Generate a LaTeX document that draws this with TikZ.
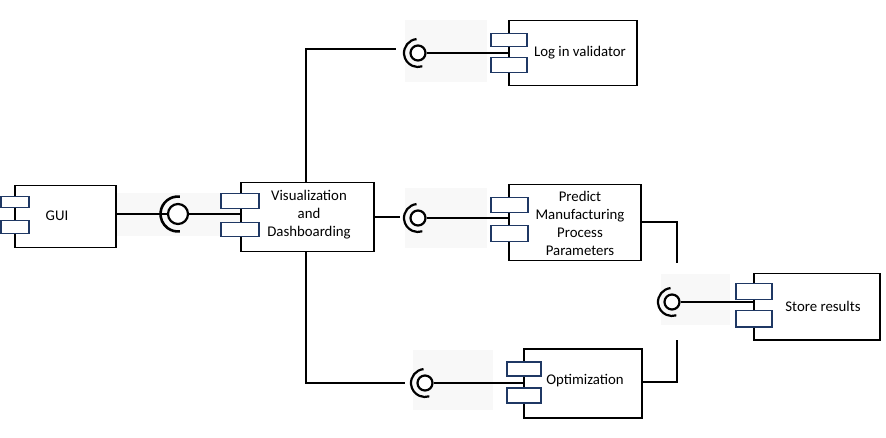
\documentclass[tikz,border=0pt]{standalone}
\usepackage{fontspec}
\setmainfont{Carlito}
\definecolor{portblue}{RGB}{31,56,100}
\definecolor{shade}{RGB}{248,248,248}
\begin{document}
\begin{tikzpicture}[x=1pt,y=-1pt,
  comp/.style={draw=black,line width=1.5pt,fill=white,rectangle,inner sep=0pt,anchor=north west},
  port/.style={draw=portblue,line width=1.5pt,fill=white,rectangle,inner sep=0pt,anchor=north west},
  ball/.style={circle,draw=black,line width=2.2pt,inner sep=0pt,fill=white},
  wire/.style={line width=1.5pt,draw=black},
  sock/.style={line width=2.6pt,draw=black},
  lbl/.style={font=\fontsize{14.8pt}{18pt}\selectfont,align=center,inner sep=0pt},
  shadebox/.style={fill=shade,draw=none,anchor=north west,inner sep=0pt}]
\useasboundingbox (0,0) rectangle (886,438);
\fill[white] (0,0) rectangle (886,438);
% faint background patches
\node[shadebox,minimum width=124pt,minimum height=43pt] (s1) at (116,193) {};
\node[shadebox,minimum width=82pt,minimum height=62pt] (s2) at (405,20) {};
\node[shadebox,minimum width=82pt,minimum height=60pt] (s3) at (405,188) {};
\node[shadebox,minimum width=69pt,minimum height=51pt] (s4) at (661,274) {};
\node[shadebox,minimum width=80pt,minimum height=60pt] (s5) at (413,350) {};

% components
\node[comp,minimum width=101pt,minimum height=62pt] (gui) at (14,185) {};
\node[comp,minimum width=133pt,minimum height=69pt] (vis) at (240,182) {};
\node[comp,minimum width=128pt,minimum height=65pt] (log) at (508,20) {};
\node[comp,minimum width=132pt,minimum height=76pt] (pred) at (508,184) {};
\node[comp,minimum width=126pt,minimum height=66pt] (store) at (753,273) {};
\node[comp,minimum width=118pt,minimum height=69pt] (opt) at (523,348) {};

% lollipops
\node[ball,minimum size=20pt] (l1) at (178,214) {};
\node[ball,minimum size=15pt] (l2) at (418,53) {};
\node[ball,minimum size=15pt] (l3) at (418,218) {};
\node[ball,minimum size=15pt] (l4) at (672,302) {};
\node[ball,minimum size=15pt] (l5) at (425,383) {};
\draw[sock] (l1.center) ++(-84:17.5) arc[start angle=-84,end angle=-276,radius=17.5];
\draw[sock,line width=2.2pt] (l2.center) ++(-96:14) arc[start angle=-96,end angle=-288,radius=14];
\draw[sock,line width=2.2pt] (l3.center) ++(-96:14) arc[start angle=-96,end angle=-288,radius=14];
\draw[sock,line width=2.2pt] (l4.center) ++(-96:14) arc[start angle=-96,end angle=-288,radius=14];
\draw[sock,line width=2.2pt] (l5.center) ++(-96:14) arc[start angle=-96,end angle=-288,radius=14];

% free ends
\coordinate (e2) at (396,49);
\coordinate (e3) at (400,217);
\coordinate (e5) at (405,383);
\coordinate (e4a) at (677,263);
\coordinate (e4b) at (677,340);

% wires
\draw[wire] (gui.east |- l1) -- (l1.west);
\draw[wire] (l1.east) -- (vis.west |- l1);
\draw[wire] (vis.north -| 306,0) -- (306,49) -- (e2);
\draw[wire] (vis.east |- e3) -- (e3);
\draw[wire] (vis.south -| 306,0) -- (306,383) -- (e5);
\draw[wire] (l2.east) -- (log.west |- l2);
\draw[wire] (l3.east) -- (pred.west |- l3);
\draw[wire] (l4.east) -- (store.west |- l4);
\draw[wire] (l5.east) -- (opt.west |- l5);
\draw[wire] (pred.east |- 0,222) -- (677,222) -- (e4a);
\draw[wire] (opt.east |- 0,382) -- (677,382) -- (e4b);

% ports
\node[port,minimum width=28pt,minimum height=11pt] (guip1) at (0,196) {};
\node[port,minimum width=28pt,minimum height=13pt] (guip2) at (0,220) {};
\node[port,minimum width=38pt,minimum height=15pt] (visp1) at (220,193) {};
\node[port,minimum width=38pt,minimum height=14pt] (visp2) at (220,222) {};
\node[port,minimum width=36pt,minimum height=13pt] (logp1) at (490,33) {};
\node[port,minimum width=36pt,minimum height=15pt] (logp2) at (490,57) {};
\node[port,minimum width=37pt,minimum height=15pt] (predp1) at (490,197) {};
\node[port,minimum width=37pt,minimum height=16pt] (predp2) at (490,225) {};
\node[port,minimum width=36pt,minimum height=16pt] (storep1) at (735,283) {};
\node[port,minimum width=36pt,minimum height=16pt] (storep2) at (735,310) {};
\node[port,minimum width=34pt,minimum height=14pt] (optp1) at (506,361) {};
\node[port,minimum width=34pt,minimum height=15pt] (optp2) at (506,387) {};

% labels
\node[lbl] (tgui) at (57,216) {GUI};
\node[lbl] (tvis) at (309,215) {Visualization\\and\\Dashboarding};
\node[lbl] (tlog) at (580,53) {Log in validator};
\node[lbl] (tpred) at (580,223) {Predict\\Manufacturing\\Process\\Parameters};
\node[lbl] (tstore) at (823,306) {Store results};
\node[lbl] (topt) at (585,381) {Optimization};
\end{tikzpicture}
\end{document}
